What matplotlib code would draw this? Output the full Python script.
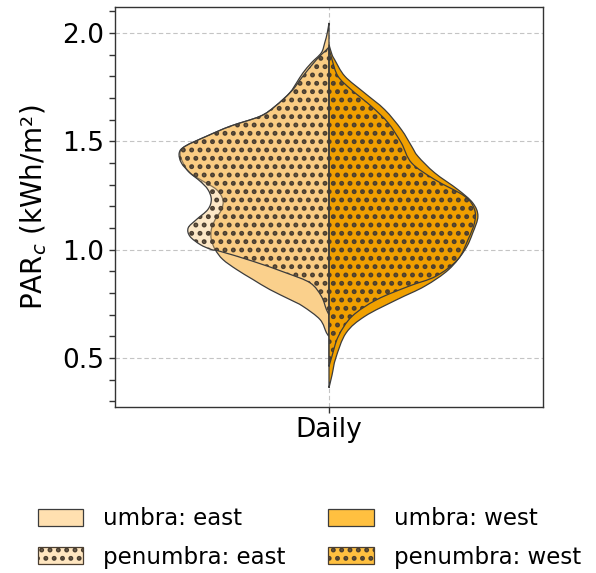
import numpy as np
import matplotlib
matplotlib.use("Agg")
import matplotlib.pyplot as plt
from matplotlib.path import Path
from matplotlib.patches import PathPatch, Patch

# Half-violin outlines: PAR_c level (kWh/m²) and half-width (x-axis units)
umbra_east_y = [2.046, 2.00, 1.954, 1.908, 1.862, 1.815, 1.769, 1.723, 1.661, 1.615,
                1.569, 1.523, 1.477, 1.446, 1.40, 1.354, 1.315, 1.277, 1.231, 1.185,
                1.138, 1.092, 1.046, 1.0, 0.954, 0.908, 0.862, 0.815, 0.769, 0.738,
                0.677, 0.616, 0.60]
umbra_east_w = [0.0, 0.004, 0.010, 0.018, 0.041, 0.061, 0.076, 0.092, 0.126, 0.161,
                0.231, 0.286, 0.336, 0.348, 0.341, 0.325, 0.294, 0.263, 0.248, 0.251,
                0.266, 0.275, 0.275, 0.266, 0.248, 0.216, 0.178, 0.138, 0.091, 0.061,
                0.021, 0.006, 0.0]

penumbra_east_y = [1.935, 1.92, 1.877, 1.80, 1.73, 1.661, 1.615, 1.569, 1.523, 1.477,
                   1.446, 1.40, 1.354, 1.315, 1.277, 1.231, 1.185, 1.138, 1.10, 1.061,
                   1.023, 1.0, 0.992, 0.946, 0.892, 0.846, 0.785, 0.723, 0.70]
penumbra_east_w = [0.0, 0.007, 0.029, 0.061, 0.088, 0.126, 0.161, 0.231, 0.286, 0.336,
                   0.350, 0.345, 0.325, 0.301, 0.283, 0.275, 0.283, 0.310, 0.329, 0.325,
                   0.301, 0.275, 0.255, 0.178, 0.100, 0.044, 0.018, 0.006, 0.0]

umbra_west_y = [1.946, 1.90, 1.877, 1.80, 1.723, 1.646, 1.554, 1.477, 1.43, 1.354,
                1.277, 1.215, 1.154, 1.077, 1.0, 0.908, 0.831, 0.769, 0.692, 0.615,
                0.50, 0.42, 0.362]
umbra_west_w = [0.0, 0.007, 0.013, 0.037, 0.083, 0.130, 0.169, 0.193, 0.208, 0.247,
                0.301, 0.336, 0.348, 0.336, 0.318, 0.280, 0.224, 0.159, 0.084, 0.040,
                0.016, 0.007, 0.0]

penumbra_west_y = [1.93, 1.877, 1.80, 1.738, 1.661, 1.585, 1.492, 1.40, 1.323, 1.246,
                   1.185, 1.123, 1.046, 0.954, 0.877, 0.831, 0.769, 0.692, 0.60, 0.508,
                   0.46]
penumbra_west_w = [0.0, 0.007, 0.021, 0.052, 0.099, 0.138, 0.169, 0.193, 0.247, 0.317,
                   0.340, 0.340, 0.325, 0.301, 0.250, 0.187, 0.112, 0.054, 0.022, 0.007,
                   0.0]

category = "Daily"
legend_labels = ["umbra: east", "penumbra: east", "umbra: west", "penumbra: west"]

EDGE = "#3c3c3c"
DOTS = "#4a3e30"


def half_violin_path(ys, ws, side, x0=0.0):
    """Closed smooth outline of one half violin (side=-1 left, +1 right)."""
    pts = np.column_stack([x0 + side * np.asarray(ws, float), np.asarray(ys, float)])
    n = len(pts)
    ext = np.vstack([pts[0], pts, pts[-1]])
    verts = [tuple(pts[0])]
    codes = [Path.MOVETO]
    for i in range(n - 1):
        p0, p1, p2, p3 = ext[i], ext[i + 1], ext[i + 2], ext[i + 3]
        c1 = p1 + (p2 - p0) / 6.0
        c2 = p2 - (p3 - p1) / 6.0
        verts += [tuple(c1), tuple(c2), tuple(p2)]
        codes += [Path.CURVE4] * 3
    verts += [(x0, pts[-1][1]), (x0, pts[0][1]), (x0, pts[0][1])]
    codes += [Path.LINETO, Path.LINETO, Path.CLOSEPOLY]
    return Path(verts, codes)


plt.rcParams['font.family'] = ['DejaVu Sans']
plt.rcParams['hatch.linewidth'] = 2.3
fig = plt.figure(figsize=(5.96, 5.73), dpi=100)
ax = fig.add_axes([0.193, 0.290, 0.718, 0.698])

ax.set_axisbelow(True)
ax.grid(True, which='major', color='#c4c4c4', linestyle=(0, (4, 2.5)), linewidth=0.8)

# umbra halves (opaque fill)
ax.add_patch(PathPatch(half_violin_path(umbra_east_y, umbra_east_w, -1),
                       facecolor='#FAD08C', edgecolor=EDGE, linewidth=0.9, zorder=2))
ax.add_patch(PathPatch(half_violin_path(umbra_west_y, umbra_west_w, +1),
                       facecolor='#F0A000', edgecolor=EDGE, linewidth=0.9, zorder=2))

# penumbra halves (translucent fill, dotted hatch)
ax.add_patch(PathPatch(half_violin_path(penumbra_east_y, penumbra_east_w, -1),
                       facecolor=(0.98, 0.78, 0.47, 0.42), edgecolor=DOTS,
                       linewidth=0.0, hatch='..', zorder=3))
ax.add_patch(PathPatch(half_violin_path(penumbra_west_y, penumbra_west_w, +1),
                       facecolor=(0.94, 0.62, 0.0, 0.45), edgecolor=DOTS,
                       linewidth=0.0, hatch='..', zorder=3))
# penumbra outlines drawn thin on top of the dots
for ys, ws, side in [(penumbra_east_y, penumbra_east_w, -1),
                     (penumbra_west_y, penumbra_west_w, +1)]:
    ax.add_patch(PathPatch(half_violin_path(ys, ws, side), facecolor='none',
                           edgecolor=EDGE, linewidth=0.9, zorder=4))

ax.set_xlim(-0.5, 0.5)
ax.set_ylim(0.274, 2.12)
ax.set_xticks([0])
ax.set_xticklabels([category], fontsize=19)
ax.set_yticks([0.5, 1.0, 1.5, 2.0])
ax.set_yticks(np.arange(0.3, 2.15, 0.1), minor=True)
ax.tick_params(axis='y', which='major', labelsize=19, length=4, width=1, color='#333333')
ax.tick_params(axis='y', which='minor', length=4, width=1, color='#333333')
ax.tick_params(axis='x', length=4, width=1, color='#333333')
ax.set_ylabel('PAR$_c$ (kWh/m²)', fontsize=20, labelpad=10)
for s in ax.spines.values():
    s.set_color('#333333')
    s.set_linewidth(1.0)

handles = [
    Patch(facecolor='#FFE0B0', edgecolor=EDGE, linewidth=0.9),
    Patch(facecolor='#FFE6C0', edgecolor=DOTS, linewidth=0.9, hatch='..'),
    Patch(facecolor='#FFC040', edgecolor=EDGE, linewidth=0.9),
    Patch(facecolor='#FFC040', edgecolor=DOTS, linewidth=0.9, hatch='..'),
]
fig.legend(handles, legend_labels, loc='center', bbox_to_anchor=(0.519, 0.061),
           ncol=2, frameon=False, fontsize=16.5, handlelength=2.0, handleheight=0.75,
           columnspacing=1.85, labelspacing=0.66, handletextpad=0.87)

fig.savefig('out.png', dpi=100)
